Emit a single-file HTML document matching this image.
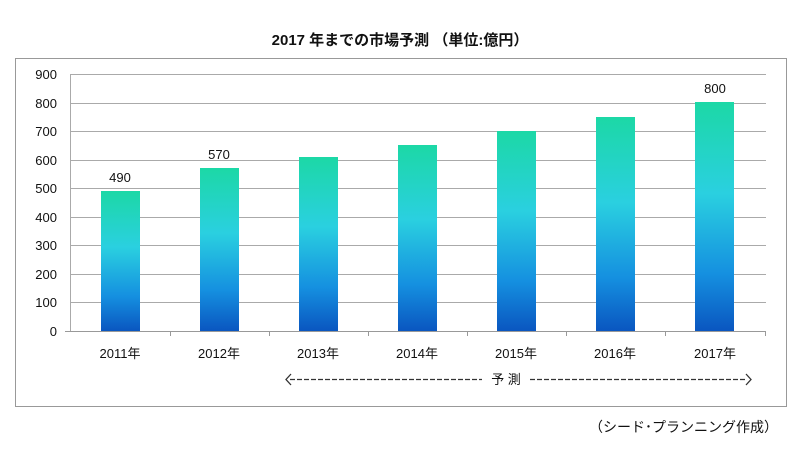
<!DOCTYPE html>
<html><head><meta charset="utf-8"><style>
body{margin:0;background:#fff;}
text{font-family:"Liberation Sans","Noto Sans CJK JP",sans-serif;fill:#111;}
</style></head><body>
<svg width="800" height="453" xmlns="http://www.w3.org/2000/svg">
<defs>
<linearGradient id="g" x1="0" y1="0" x2="0" y2="1">
<stop offset="0" stop-color="#1cd8a6"/>
<stop offset="0.4" stop-color="#2ad0e0"/>
<stop offset="0.75" stop-color="#1590e0"/>
<stop offset="1" stop-color="#0a56c0"/>
</linearGradient>
</defs>
<text x="400" y="45" text-anchor="middle" font-size="15" font-weight="bold">2017 年までの市場予測 （単位:億円）</text>
<rect x="15.5" y="58.5" width="771" height="348" fill="none" stroke="#999" stroke-width="1"/>
<g stroke="#aaa" stroke-width="1">
<line x1="70" x2="766" y1="74.5" y2="74.5"/>
<line x1="70" x2="766" y1="103.5" y2="103.5"/>
<line x1="70" x2="766" y1="131.5" y2="131.5"/>
<line x1="70" x2="766" y1="160.5" y2="160.5"/>
<line x1="70" x2="766" y1="188.5" y2="188.5"/>
<line x1="70" x2="766" y1="217.5" y2="217.5"/>
<line x1="70" x2="766" y1="245.5" y2="245.5"/>
<line x1="70" x2="766" y1="274.5" y2="274.5"/>
<line x1="70" x2="766" y1="302.5" y2="302.5"/>
<line x1="70.5" x2="70.5" y1="74" y2="331"/>
</g>
<g font-size="13" text-anchor="end">
<text x="57" y="79">900</text><text x="57" y="108">800</text><text x="57" y="136">700</text>
<text x="57" y="165">600</text><text x="57" y="193">500</text><text x="57" y="222">400</text>
<text x="57" y="250">300</text><text x="57" y="279">200</text><text x="57" y="307">100</text>
<text x="57" y="336">0</text>
</g>
<g fill="url(#g)">
<rect x="101" y="191" width="39" height="140"/>
<rect x="200" y="168" width="39" height="163"/>
<rect x="299" y="157" width="39" height="174"/>
<rect x="398" y="145" width="39" height="186"/>
<rect x="497" y="131" width="39" height="200"/>
<rect x="596" y="117" width="39" height="214"/>
<rect x="695" y="102" width="39" height="229"/>
</g>
<g stroke="#999"><line x1="65" x2="766" y1="331.5" y2="331.5"/>
<line x1="170.5" x2="170.5" y1="331" y2="336"/><line x1="269.5" x2="269.5" y1="331" y2="336"/>
<line x1="368.5" x2="368.5" y1="331" y2="336"/><line x1="467.5" x2="467.5" y1="331" y2="336"/>
<line x1="566.5" x2="566.5" y1="331" y2="336"/><line x1="665.5" x2="665.5" y1="331" y2="336"/>
<line x1="765.5" x2="765.5" y1="331" y2="336"/></g>
<g font-size="13" text-anchor="middle">
<text x="120" y="182">490</text><text x="219" y="159">570</text><text x="715" y="93">800</text>
<text x="120" y="358">2011年</text><text x="219" y="358">2012年</text><text x="318" y="358">2013年</text>
<text x="417" y="358">2014年</text><text x="516" y="358">2015年</text><text x="615" y="358">2016年</text>
<text x="715" y="358">2017年</text>
<text x="506" y="384">予 測</text>
</g>
<g stroke="#333" stroke-width="1.3" fill="none">
<polyline points="291,374 286,379.5 291,385"/>
<line x1="290" x2="482" y1="379.5" y2="379.5" stroke-dasharray="5,2"/>
<line x1="530" x2="747" y1="379.5" y2="379.5" stroke-dasharray="5,2"/>
<polyline points="746,374 751,379.5 746,385"/>
</g>
<text x="778" y="432" font-size="14" text-anchor="end">（シード･プランニング作成）</text>
</svg>
</body></html>
